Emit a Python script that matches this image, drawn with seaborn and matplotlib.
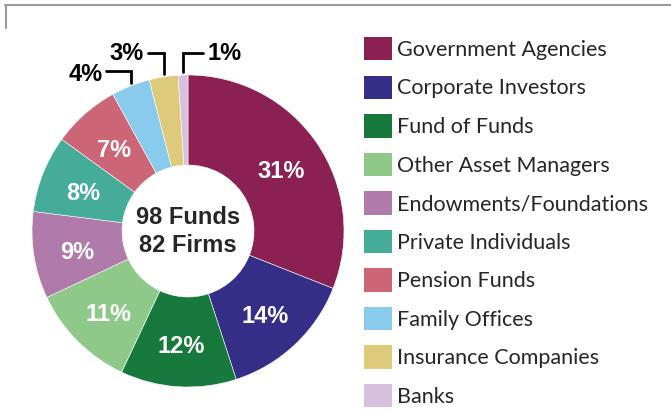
import numpy as np
import seaborn as sns
import matplotlib.pyplot as plt
from matplotlib.lines import Line2D

# Data
categories = ["Government Agencies", "Corporate Investors", "Fund of Funds",
              "Other Asset Managers", "Endowments/Foundations", "Private Individuals",
              "Pension Funds", "Family Offices", "Insurance Companies", "Banks"]
shares = [31, 14, 12, 11, 9, 8, 7, 4, 3, 1]
colors = ["#8A2152", "#352E86", "#17793C", "#8FC98A", "#B07AAA",
          "#45AC99", "#CC6676", "#89CBEC", "#DDCA7A", "#D6C0DD"]
center_text = "98 Funds\n82 Firms"

sns.set_theme(style="white")
palette = sns.color_palette(colors)

W, H = 671, 411
fig = plt.figure(figsize=(W / 100, H / 100), dpi=100)

# pie axes: centre (188, 231), radius 156 px
cx, cy, r = 188, 231, 156
ax = fig.add_axes([(cx - r) / W, (H - cy - r) / H, 2 * r / W, 2 * r / H])
wedges, _ = ax.pie(shares, colors=palette, startangle=90, counterclock=False,
                   radius=1, wedgeprops=dict(width=1 - 66 / 156, edgecolor="white", linewidth=0.4))
ax.set_xlim(-1, 1)
ax.set_ylim(-1, 1)
ax.set_aspect("equal")
ax.axis("off")

lab_font = dict(family="Liberation Sans", fontweight="bold", fontsize=17)

# percentage labels
cum = np.cumsum(shares)
for i, v in enumerate(shares):
    mid = (cum[i] - v / 2) / 100 * 2 * np.pi
    if v >= 5:
        rr = 0.72
        ax.text(rr * np.sin(mid), rr * np.cos(mid) - 0.025, f"{v}%", color="white",
                ha="center", va="center", **lab_font)
    else:
        x0, y0 = np.sin(mid), np.cos(mid)
        if v == 4:
            top, dx, ty = 1.026, -0.155, -0.025
        elif v == 3:
            top, dx, ty = 1.141, -0.10, 0.0
        else:
            top, dx, ty = 1.141, 0.13, 0.0
        ax.plot([x0, x0, x0 + dx], [y0 + 0.02, top, top], color="black", lw=2,
                clip_on=False, solid_joinstyle="miter")
        ax.text(x0 + dx + np.sign(dx) * 0.025, top + ty, f"{v}%", color="black",
                ha="right" if dx < 0 else "left", va="center", **lab_font)

ax.text(0, -0.005, center_text, ha="center", va="center", linespacing=1.27, **lab_font)

# legend
leg = fig.legend(wedges, categories, loc="upper left",
                 bbox_to_anchor=(364 / W, 1 - 37 / H), frameon=False,
                 prop=dict(family="Lato", size=15.5),
                 handlelength=1.3, handleheight=1.3, labelspacing=0.7,
                 handletextpad=0.22, borderpad=0, borderaxespad=0)
for h in leg.legend_handles:
    h.set_edgecolor("none")

# frame lines at top-left
fig.add_artist(Line2D([5 / W, 1], [1 - 5 / H, 1 - 5 / H], color="#9a9a9a", lw=1.5))
fig.add_artist(Line2D([6 / W, 6 / W], [1 - 5 / H, 1 - 28 / H], color="#9a9a9a", lw=1.5))

fig.savefig("out.png", dpi=100)
